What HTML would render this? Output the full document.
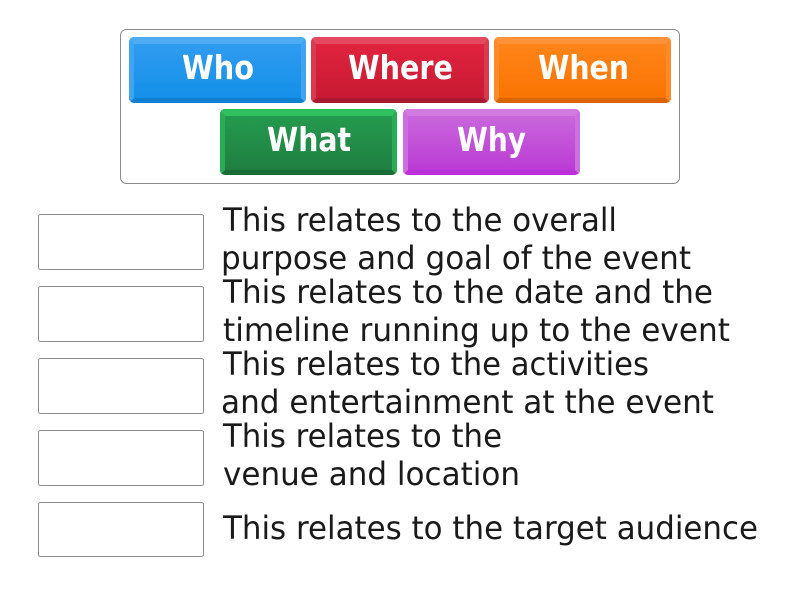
<!DOCTYPE html>
<html><head><meta charset="utf-8"><style>
html,body{margin:0;padding:0;background:#fff;width:800px;height:600px;overflow:hidden}
svg{display:block}
.t{font-family:"DejaVu Sans",sans-serif;font-size:32px;fill:#1a1a1a}
.b{font-family:"DejaVu Sans",sans-serif;font-size:33px;font-weight:bold;fill:#fff}
.box{fill:#fff;stroke:#8c8c8c;stroke-width:1}
</style></head><body>
<svg width="800" height="600" viewBox="0 0 800 600" xmlns="http://www.w3.org/2000/svg">
<defs>
<linearGradient id="g1" x1="0" y1="0" x2="0" y2="1"><stop offset="0" stop-color="#2f9bf0"/><stop offset="1" stop-color="#1590e8"/></linearGradient>
<linearGradient id="g2" x1="0" y1="0" x2="0" y2="1"><stop offset="0" stop-color="#e0233f"/><stop offset="1" stop-color="#c81a32"/></linearGradient>
<linearGradient id="g3" x1="0" y1="0" x2="0" y2="1"><stop offset="0" stop-color="#ff8418"/><stop offset="1" stop-color="#f97402"/></linearGradient>
<linearGradient id="g4" x1="0" y1="0" x2="0" y2="1"><stop offset="0" stop-color="#249a4e"/><stop offset="1" stop-color="#1f7f41"/></linearGradient>
<linearGradient id="g5" x1="0" y1="0" x2="0" y2="1"><stop offset="0" stop-color="#c966dc"/><stop offset="1" stop-color="#bb3cd4"/></linearGradient>
<clipPath id="c1"><rect x="129" y="37" width="177" height="66" rx="5"/></clipPath>
<clipPath id="c2"><rect x="311" y="37" width="178" height="66" rx="5"/></clipPath>
<clipPath id="c3"><rect x="494" y="37" width="177" height="66" rx="5"/></clipPath>
<clipPath id="c4"><rect x="220" y="109" width="177" height="66" rx="5"/></clipPath>
<clipPath id="c5"><rect x="403" y="109" width="177" height="66" rx="5"/></clipPath>
</defs>
<rect x="120.5" y="29.5" width="559" height="154" rx="6" fill="#fff" stroke="#8c8c8c"/>

<g clip-path="url(#c1)">
<rect x="129" y="37" width="177" height="66" fill="#1180d2"/>
<path d="M129 37H306V103L301 98V44H134V98L129 103Z" fill="#3fa5f1"/>
<path d="M129 37H306L301 44H134Z" fill="#4dacf2"/>
<rect x="134" y="44" width="167" height="54" fill="url(#g1)"/>
</g>
<text class="b" x="182" y="79" textLength="72" lengthAdjust="spacingAndGlyphs">Who</text>

<g clip-path="url(#c2)">
<rect x="311" y="37" width="178" height="66" fill="#a81a30"/>
<path d="M311 37H489V103L484 98V44H316V98L311 103Z" fill="#d93a52"/>
<path d="M311 37H489L484 44H316Z" fill="#e34a60"/>
<rect x="316" y="44" width="168" height="54" fill="url(#g2)"/>
</g>
<text class="b" x="348" y="79" textLength="105" lengthAdjust="spacingAndGlyphs">Where</text>

<g clip-path="url(#c3)">
<rect x="494" y="37" width="177" height="66" fill="#d96402"/>
<path d="M494 37H671V103L666 98V44H499V98L494 103Z" fill="#ff8a2a"/>
<path d="M494 37H671L666 44H499Z" fill="#ff9138"/>
<rect x="499" y="44" width="167" height="54" fill="url(#g3)"/>
</g>
<text class="b" x="538" y="79" textLength="91" lengthAdjust="spacingAndGlyphs">When</text>

<g clip-path="url(#c4)">
<rect x="220" y="109" width="177" height="66" fill="#1a6c37"/>
<path d="M220 109H397V175L392 170V116H225V170L220 175Z" fill="#2aab56"/>
<path d="M220 109H397L392 116H225Z" fill="#2fc060"/>
<rect x="225" y="116" width="167" height="54" fill="url(#g4)"/>
</g>
<text class="b" x="267" y="151" textLength="84" lengthAdjust="spacingAndGlyphs">What</text>

<g clip-path="url(#c5)">
<rect x="403" y="109" width="177" height="66" fill="#bc2fd8"/>
<path d="M403 109H580V175L575 170V116H408V170L403 175Z" fill="#cc6fdf"/>
<path d="M403 109H580L575 116H408Z" fill="#d27ae0"/>
<rect x="408" y="116" width="167" height="54" fill="url(#g5)"/>
</g>
<text class="b" x="457" y="151" textLength="69" lengthAdjust="spacingAndGlyphs">Why</text>

<rect class="box" x="38.5" y="214.5" width="165" height="55" rx="2"/>
<rect class="box" x="38.5" y="286.5" width="165" height="55" rx="2"/>
<rect class="box" x="38.5" y="358.5" width="165" height="55" rx="2"/>
<rect class="box" x="38.5" y="430.5" width="165" height="55" rx="2"/>
<rect class="box" x="38.5" y="502.5" width="165" height="54" rx="2"/>

<text class="t" x="223" y="231" textLength="394" lengthAdjust="spacingAndGlyphs">This relates to the overall</text>
<text class="t" x="221" y="269" textLength="470" lengthAdjust="spacingAndGlyphs">purpose and goal of the event</text>
<text class="t" x="223" y="303" textLength="490" lengthAdjust="spacingAndGlyphs">This relates to the date and the</text>
<text class="t" x="223" y="341" textLength="507" lengthAdjust="spacingAndGlyphs">timeline running up to the event</text>
<text class="t" x="223" y="375" textLength="426" lengthAdjust="spacingAndGlyphs">This relates to the activities</text>
<text class="t" x="221" y="413" textLength="493" lengthAdjust="spacingAndGlyphs">and entertainment at the event</text>
<text class="t" x="223" y="447" textLength="279" lengthAdjust="spacingAndGlyphs">This relates to the</text>
<text class="t" x="223" y="485" textLength="297" lengthAdjust="spacingAndGlyphs">venue and location</text>
<text class="t" x="223" y="539" textLength="535" lengthAdjust="spacingAndGlyphs">This relates to the target audience</text>
</svg>
</body></html>
